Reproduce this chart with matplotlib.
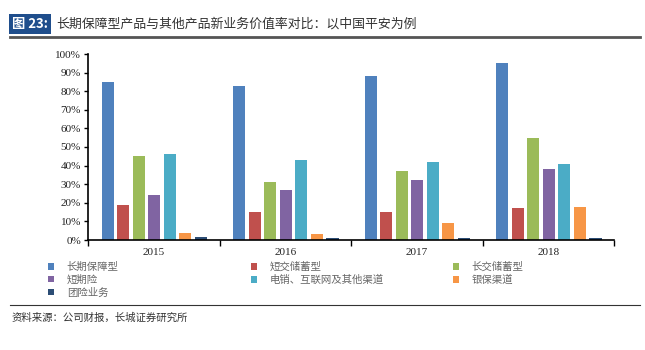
import matplotlib
matplotlib.use("Agg")
import matplotlib.pyplot as plt
import numpy as np

plt.rcParams['font.family'] = ['Noto Sans CJK SC', 'DejaVu Sans']

years = ['2015', '2016', '2017', '2018']
series_names = ['长期保障型', '短交储蓄型', '长交储蓄型', '短期险',
                '电销、互联网及其他渠道', '银保渠道', '团险业务']
long_protection = [85, 83, 88, 95]
short_savings = [19, 15, 15, 17]
long_savings = [45, 31, 37, 55]
short_term = [24, 27, 32, 38]
telesales = [46, 43, 42, 41]
bancassurance = [4, 3, 9, 18]
group_ins = [1.5, 1, 1, 1]
series_values = [long_protection, short_savings, long_savings, short_term,
                 telesales, bancassurance, group_ins]
colors = ['#4F81BD', '#C0504D', '#9BBB59', '#8064A2', '#4BACC6', '#F79646', '#2C4D75']
yticks = list(range(0, 101, 10))

fig = plt.figure(figsize=(6.45, 3.5), dpi=100)
ax = fig.add_axes([88/645, 1-240/350, (614-88)/645, (240-54)/350])

x = np.arange(len(years))
step = 0.118
width = 0.092
handles = []
for i, (name, vals, c) in enumerate(zip(series_names, series_values, colors)):
    b = ax.bar(x + (i - 3) * step + 0.005, vals, width=width, color=c, label=name,
               edgecolor='none')
    handles.append(b)

ax.set_xlim(-0.5, 3.5)
ax.set_ylim(0, 100)
ax.set_yticks(yticks)
ax.set_yticklabels([f'{t}%' for t in yticks], family='Liberation Serif', fontsize=8, color='#222222')
ax.set_xticks(x)
ax.set_xticklabels(years, family='Liberation Serif', fontsize=8, color='#222222')
ax.tick_params(axis='x', which='major', length=0, pad=6)
ax.set_xticks(np.arange(-0.5, 4, 1), minor=True)
ax.tick_params(axis='x', which='minor', length=4, direction='out', width=1)
ax.tick_params(axis='y', length=3, direction='out', width=1, pad=2)
for s in ['top', 'right']:
    ax.spines[s].set_visible(False)
ax.spines['left'].set_linewidth(1.2)
ax.spines['bottom'].set_linewidth(1.2)

# legends in three columns
cols = [([0, 3, 6], 48), ([1, 4], 251), ([2, 5], 453)]
for idxs, xpx in cols:
    fig.legend([handles[k] for k in idxs], [series_names[k] for k in idxs],
               loc='upper left', bbox_to_anchor=(xpx/645, 1-262/350),
               frameon=False, fontsize=7.5, handlelength=0.6, handleheight=0.6,
               handletextpad=1.2, labelspacing=0.25, borderpad=0,
               borderaxespad=0, labelcolor='#666666')

# Title
fig.text(12/645, 1-24/350, '图 23:', fontsize=9.5, fontweight='bold', color='white',
         va='center', ha='left',
         bbox=dict(boxstyle='square,pad=0.25', facecolor='#1F4E8C', edgecolor='none'))
fig.text(56/645, 1-24/350, '长期保障型产品与其他产品新业务价值率对比：以中国平安为例',
         fontsize=9.3, color='#333333', va='center', ha='left')
fig.add_artist(plt.Line2D([10/645, 640/645], [1-37/350, 1-37/350], color='#555555', lw=2))
fig.add_artist(plt.Line2D([10/645, 640/645], [1-305/350, 1-305/350], color='#333333', lw=0.8))
fig.text(12/645, 1-318/350, '资料来源：公司财报，长城证券研究所', fontsize=7.5,
         color='#333333', va='center', ha='left', style='italic')

fig.savefig('out.png', dpi=100, facecolor='white')
